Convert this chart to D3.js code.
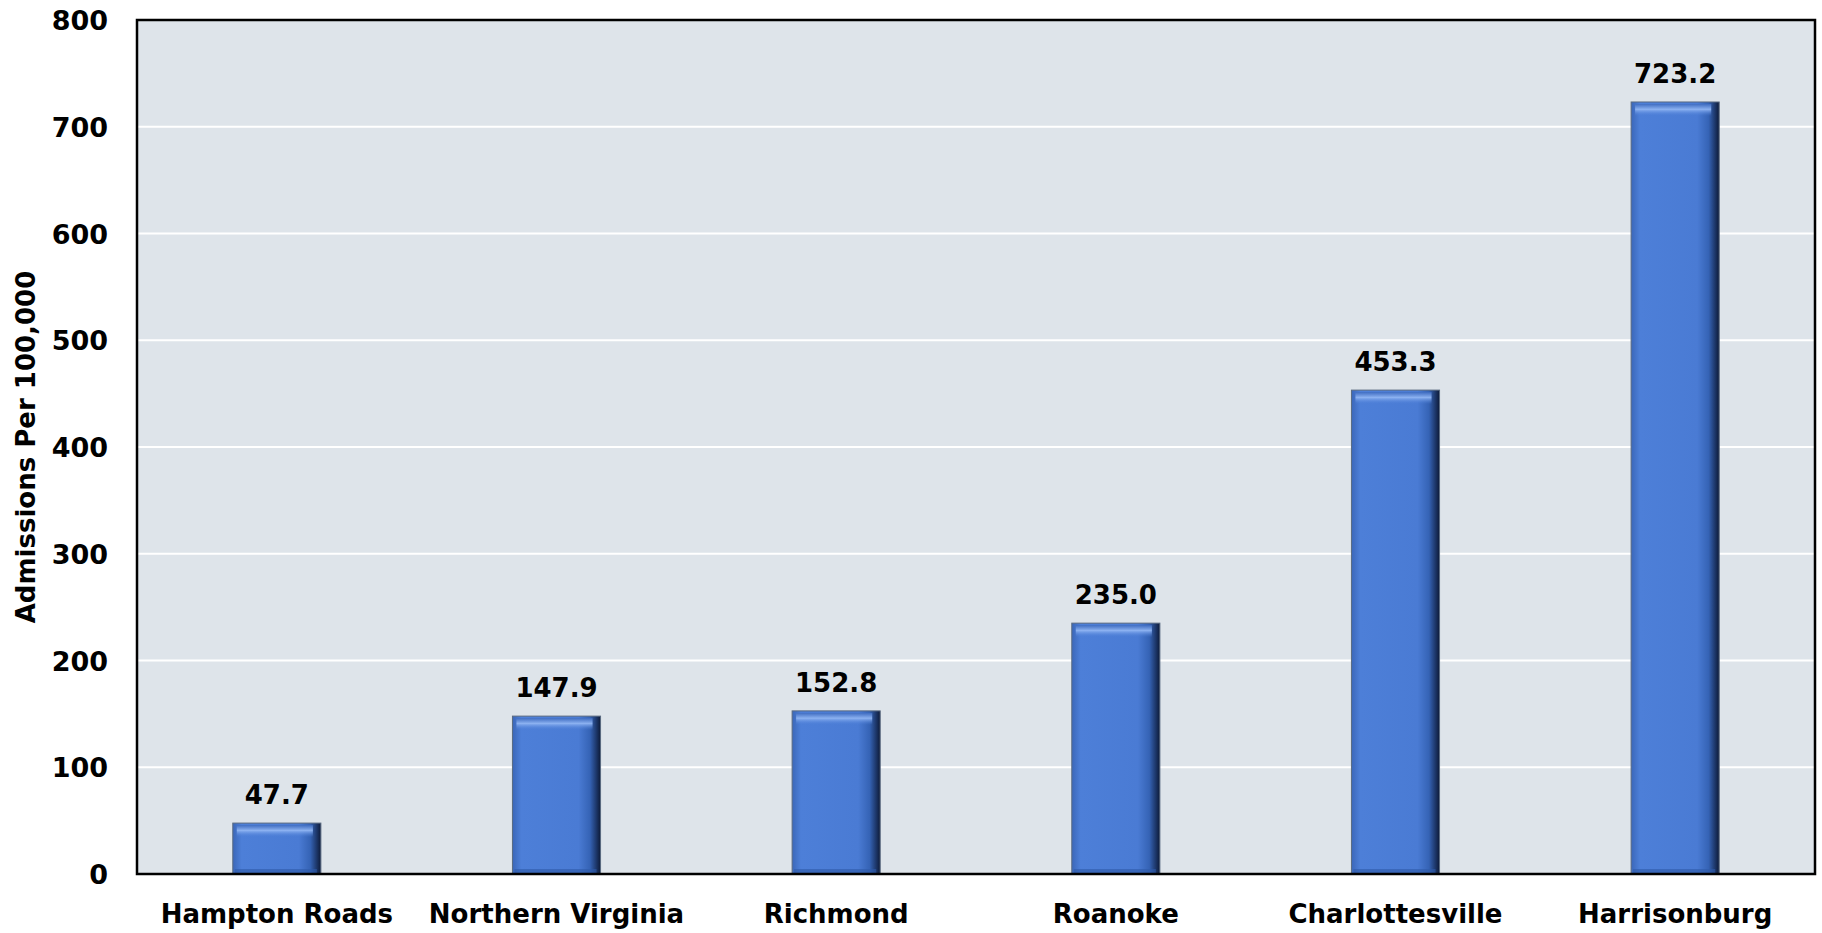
<!DOCTYPE html>
<html><head><meta charset="utf-8">
<script src="https://cdn.jsdelivr.net/npm/d3@7"></script>
<style>
body{margin:0;background:#fff;}
text{font-family:"DejaVu Sans",sans-serif;font-weight:bold;fill:#000;}
</style></head><body>
<svg id="c" width="1822" height="933"></svg>
<script>
const categories = ["Hampton Roads","Northern Virginia","Richmond","Roanoke","Charlottesville","Harrisonburg"];
const values = [47.7,147.9,152.8,235.0,453.3,723.2];
const yTicks = [0,100,200,300,400,500,600,700,800];
const yTitle = "Admissions Per 100,000";

const svg = d3.select("#c");
const m = {l:137, t:20, r:1815, b:874};
const x = d3.scaleBand().domain(categories).range([m.l, m.r]).paddingInner(0.685).paddingOuter(0.3425);
const y = d3.scaleLinear().domain([0,800]).range([m.b, m.t]);

const defs = svg.append("defs");
const gh = defs.append("linearGradient").attr("id","gh").attr("x1",0).attr("x2",1).attr("y1",0).attr("y2",0);
gh.append("stop").attr("offset",0).attr("stop-color","#3b67b9");
gh.append("stop").attr("offset",0.1).attr("stop-color","#4d7fd8");
gh.append("stop").attr("offset",0.75).attr("stop-color","#4a7bd4");
gh.append("stop").attr("offset",0.88).attr("stop-color","#3563b5");
gh.append("stop").attr("offset",1).attr("stop-color","#0d1a38");
const gt = defs.append("linearGradient").attr("id","gt").attr("x1",0).attr("x2",0).attr("y1",0).attr("y2",1);
gt.append("stop").attr("offset",0).attr("stop-color","#3f6cc0").attr("stop-opacity",0.9);
gt.append("stop").attr("offset",0.45).attr("stop-color","#8fb4f2").attr("stop-opacity",0.95);
gt.append("stop").attr("offset",1).attr("stop-color","#4d7fd8").attr("stop-opacity",0);

svg.append("rect").attr("x",m.l).attr("y",m.t).attr("width",m.r-m.l).attr("height",m.b-m.t).attr("fill","#dee4ea");

svg.append("g").selectAll("line").data(yTicks.filter(d=>d>0 && d<800)).join("line")
  .attr("x1",m.l).attr("x2",m.r).attr("y1",d=>y(d)).attr("y2",d=>y(d))
  .attr("stroke","#fff").attr("stroke-width",2);

const bars = svg.append("g").selectAll("g").data(categories).join("g");
bars.append("rect").attr("x",d=>x(d)).attr("y",(d,i)=>y(values[i])).attr("width",x.bandwidth())
  .attr("height",(d,i)=>y(0)-y(values[i])).attr("fill","url(#gh)").attr("stroke","#5a6a80").attr("stroke-width",1);
bars.append("rect").attr("x",d=>x(d)+4).attr("y",(d,i)=>y(values[i])+2).attr("width",x.bandwidth()-12)
  .attr("height",12).attr("fill","url(#gt)");
bars.append("rect").attr("x",d=>x(d)+2).attr("y",(d,i)=>y(0)-5).attr("width",x.bandwidth()-6)
  .attr("height",4).attr("fill","#2f5aa8").attr("opacity",0.6);

svg.append("g").selectAll("text").data(categories).join("text")
  .attr("x",d=>x(d)+x.bandwidth()/2).attr("y",(d,i)=>y(values[i])-19)
  .attr("text-anchor","middle").attr("font-size",26).text((d,i)=>values[i].toFixed(1));

svg.append("rect").attr("x",m.l).attr("y",m.t).attr("width",m.r-m.l).attr("height",m.b-m.t)
  .attr("fill","none").attr("stroke","#000").attr("stroke-width",2.5);

const ya = svg.append("g").attr("transform",`translate(${m.l},0)`)
  .call(d3.axisLeft(y).tickValues(yTicks).tickSize(0).tickPadding(29).tickFormat(d3.format("d")));
ya.select(".domain").remove();
ya.selectAll("text").attr("font-size",27).attr("font-family",null).attr("dy","0.36em");

const xa = svg.append("g").attr("transform",`translate(0,${m.b})`)
  .call(d3.axisBottom(x).tickSize(0).tickPadding(0));
xa.select(".domain").remove();
xa.selectAll("text").attr("font-size",26).attr("font-family",null).attr("y",49).attr("dy",0);

svg.append("text").attr("transform",`translate(35,${(m.t+m.b)/2}) rotate(-90)`)
  .attr("text-anchor","middle").attr("font-size",26).text(yTitle);
</script></body></html>
